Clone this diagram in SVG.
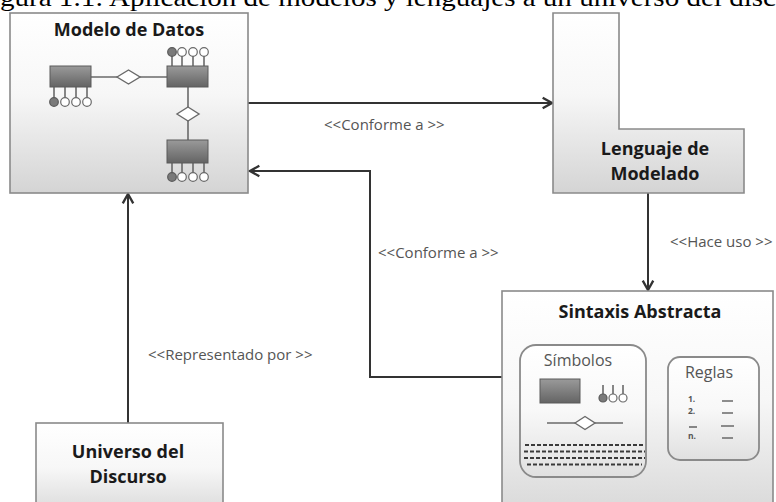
<svg xmlns="http://www.w3.org/2000/svg" width="776" height="502" viewBox="0 0 776 502">
<defs>
<linearGradient id="gBox" x1="0" y1="0" x2="0" y2="1">
<stop offset="0" stop-color="#ffffff"/>
<stop offset="0.45" stop-color="#f7f7f7"/>
<stop offset="1" stop-color="#d4d4d4"/>
</linearGradient>
<linearGradient id="gInner" x1="0" y1="0" x2="0" y2="1">
<stop offset="0" stop-color="#ffffff"/>
<stop offset="0.5" stop-color="#f8f8f8"/>
<stop offset="1" stop-color="#e0e0e0"/>
</linearGradient>
<linearGradient id="gEnt" x1="0" y1="0" x2="0" y2="1">
<stop offset="0" stop-color="#9a9a9a"/>
<stop offset="1" stop-color="#646464"/>
</linearGradient>
<marker id="arr" markerUnits="userSpaceOnUse" markerWidth="14" markerHeight="14" viewBox="-10 -6 12 12" refX="0" refY="0" orient="auto">
<path d="M-8,-4.5 L0,0 L-8,4.5" fill="none" stroke="#333" stroke-width="2" stroke-linejoin="miter"/>
</marker>
</defs>
<style>
.box{fill:url(#gBox);stroke:#8a8a8a;stroke-width:1.6}
.inner{fill:url(#gInner);stroke:#8a8a8a;stroke-width:1.8}
.ent{fill:url(#gEnt);stroke:#5a5a5a;stroke-width:1}
.ln{stroke:#6a6a6a;stroke-width:1.6;fill:none}
.dia{fill:#fff;stroke:#6a6a6a;stroke-width:1.4}
.co{fill:#fff;stroke:#6a6a6a;stroke-width:1.2}
.cf{fill:#7a7a7a;stroke:#5a5a5a;stroke-width:1.2}
.title{font-family:"Open Sans","DejaVu Sans",sans-serif;font-weight:bold;font-size:18px;fill:#1a1a1a;text-anchor:middle}
.lbl{font-family:"Open Sans","DejaVu Sans",sans-serif;font-size:15px;fill:#555;text-anchor:start}
.sub{font-family:"Open Sans","DejaVu Sans",sans-serif;font-size:16px;fill:#555;text-anchor:middle}
.tiny{font-family:"Open Sans","DejaVu Sans",sans-serif;font-size:8.5px;font-weight:bold;fill:#555}
.conn{stroke:#333;stroke-width:2;fill:none}
.dash{stroke:#3a3a3a;stroke-width:2.2;stroke-dasharray:4 2}
.cap{font-family:"Liberation Serif","Times New Roman",serif;font-size:26px;fill:#000}
</style>
<rect x="0" y="0" width="776" height="502" fill="#fff"/>
<text class="cap" x="0" y="6" textLength="776" lengthAdjust="spacingAndGlyphs">gura 1.1: Aplicación de modelos y lenguajes a un universo del disc</text>

<g id="connectors">
<path class="conn" d="M248,103 H552" marker-end="url(#arr)"/>
<path class="conn" d="M502,377 H370 V171 H250" marker-end="url(#arr)"/>
<path class="conn" d="M648,193 V290" marker-end="url(#arr)"/>
<path class="conn" d="M128,423 V194" marker-end="url(#arr)"/>
<text class="lbl" x="324" y="130">&lt;&lt;Conforme a &gt;&gt;</text>
<text class="lbl" x="378" y="258">&lt;&lt;Conforme a &gt;&gt;</text>
<text class="lbl" x="670" y="247">&lt;&lt;Hace uso &gt;&gt;</text>
<text class="lbl" x="148" y="360">&lt;&lt;Representado por &gt;&gt;</text>
</g>

<g id="modelo-datos">
<rect class="box" x="10" y="13" width="238" height="180"/>
<text class="title" x="129" y="36">Modelo de Datos</text>
<path class="ln" d="M91,77 H167"/>
<path class="dia" d="M117,77 L128.5,70 L140,77 L128.5,84 Z"/>
<path class="ln" d="M188,87 V140"/>
<path class="dia" d="M188,107 L199,114 L188,121 L177,114 Z"/>
<path class="ln" d="M54,87 V98 M65,87 V98 M76,87 V98 M87,87 V98"/>
<rect class="ent" x="50" y="66" width="41" height="21"/>
<circle class="cf" cx="54" cy="102" r="4.3"/>
<circle class="co" cx="65" cy="102" r="4.3"/>
<circle class="co" cx="76" cy="102" r="4.3"/>
<circle class="co" cx="87" cy="102" r="4.3"/>
<path class="ln" d="M172,56 V66 M182,56 V66 M193,56 V66 M204,56 V66"/>
<rect class="ent" x="167" y="66" width="41" height="21"/>
<circle class="cf" cx="172" cy="52" r="4.3"/>
<circle class="co" cx="182" cy="52" r="4.3"/>
<circle class="co" cx="193" cy="52" r="4.3"/>
<circle class="co" cx="204" cy="52" r="4.3"/>
<path class="ln" d="M172,163 V173 M182,163 V173 M193,163 V173 M204,163 V173"/>
<rect class="ent" x="167" y="140" width="41" height="23"/>
<circle class="cf" cx="172" cy="177" r="4.3"/>
<circle class="co" cx="182" cy="177" r="4.3"/>
<circle class="co" cx="193" cy="177" r="4.3"/>
<circle class="co" cx="204" cy="177" r="4.3"/>
</g>

<g id="lenguaje-modelado">
<path class="box" d="M553,13 H619 V129 H744 V193 H553 Z"/>
<text class="title" x="655" y="155">Lenguaje de</text>
<text class="title" x="655" y="180">Modelado</text>
</g>

<g id="universo-discurso">
<rect class="box" x="36" y="423" width="187" height="100"/>
<text class="title" x="128" y="458">Universo del</text>
<text class="title" x="128" y="483">Discurso</text>
</g>

<g id="sintaxis-abstracta">
<rect class="box" x="502" y="291" width="271" height="240"/>
<text class="title" x="640" y="318">Sintaxis Abstracta</text>
<g id="simbolos">
<rect class="inner" x="520" y="345" width="126" height="132" rx="16"/>
<text class="sub" x="578" y="366">Símbolos</text>
<rect class="ent" x="540" y="379" width="40" height="24"/>
<path class="ln" d="M603,385 V394 M613,385 V394 M623,385 V394"/>
<circle class="cf" cx="603" cy="398" r="4"/>
<circle class="co" cx="613" cy="398" r="4"/>
<circle class="co" cx="623" cy="398" r="4"/>
<path class="ln" d="M547,423 H623"/>
<path class="dia" d="M575,423 L585,416.5 L595,423 L585,429.5 Z"/>
<path class="dash" d="M525,445 H645 M524,451.5 H645 M524,458 H645 M527,464.5 H642"/>
</g>
<g id="reglas">
<rect class="inner" x="668" y="357" width="91" height="103" rx="12"/>
<text class="sub" x="709" y="378">Reglas</text>
<text class="tiny" x="688" y="402">1.</text>
<text class="tiny" x="688" y="414">2.</text>
<text class="tiny" x="688" y="439">n.</text>
<path class="ln" d="M689,427 H697" stroke-width="1"/>
<path class="ln" d="M722,401 H733 M722,413 H733 M721,426 H734 M722,438 H733" stroke-width="1"/>
</g>
</g>
</svg>
